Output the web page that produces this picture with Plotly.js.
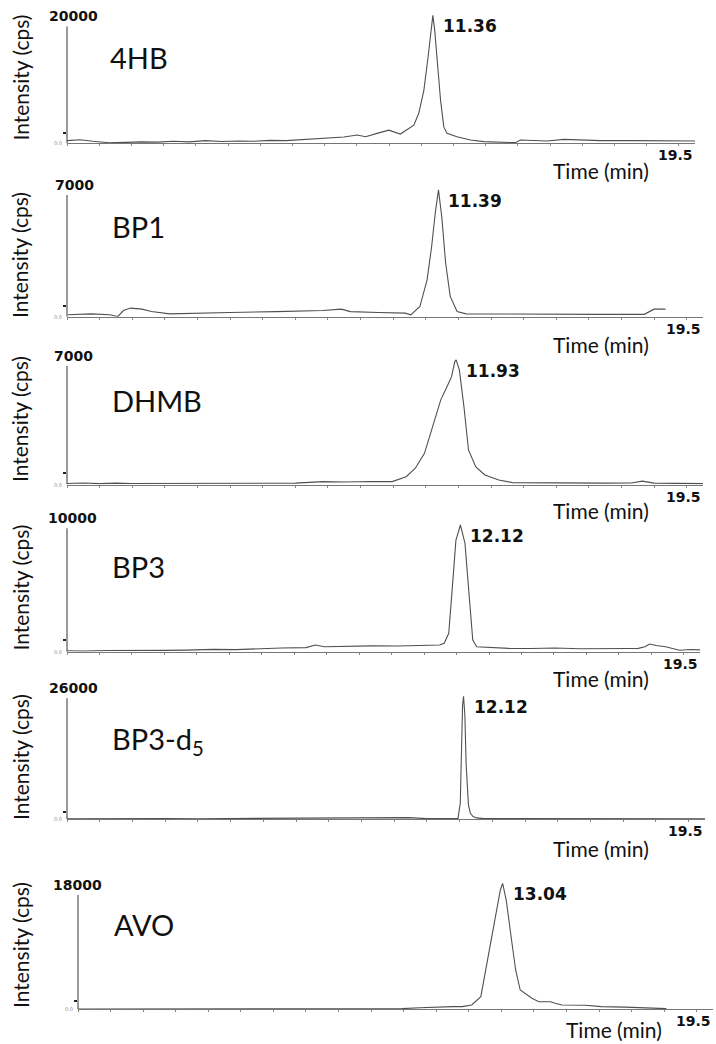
<!DOCTYPE html>
<html><head><meta charset="utf-8">
<script src="https://cdn.plot.ly/plotly-3.0.1.min.js"></script>
<style>html,body{margin:0;padding:0;background:#fff;}#chart{width:716px;height:1044px;}</style>
</head><body><div id="chart"></div>
<script>
// ---------------- data ----------------
const compounds = ['4HB', 'BP1', 'DHMB', 'BP3', 'BP3-d<sub>5</sub>', 'AVO'];
const retentionTimes = [11.36, 11.39, 11.93, 12.12, 12.12, 13.04];
const yAxisMax = [20000, 7000, 7000, 10000, 26000, 18000];
const yTickMarks = [1800, 600, 700, 950, 1600, 1300];
const xAxisEnd = 19.5;
const xTitle = 'Time (min)';
const yTitle = 'Intensity (cps)';

const time_4HB = [0, 0.4, 0.8, 1.3, 1.8, 2.3, 2.8, 3.3, 3.8, 4.3, 4.8, 5.3, 5.8, 6.3, 6.8, 7.3, 7.8, 8.29, 8.6, 9.01, 9.27, 9.63, 9.99, 10.35, 10.61, 10.77, 10.92, 11.08, 11.21, 11.31, 11.36, 11.42, 11.51, 11.6, 11.7, 11.8, 12.11, 12.53, 12.94, 13.92, 14.08, 14.91, 15.43, 16.57, 17.61, 18.64, 19.5];
const int_4HB  = [450, 600, 350, 100, 150, 250, 200, 350, 250, 450, 300, 400, 350, 500, 450, 650, 800, 1020, 1070, 1410, 1130, 1700, 2250, 1580, 2540, 3100, 5090, 9030, 14700, 19800, 21900, 19200, 13000, 7340, 2810, 1700, 1130, 560, 280, 110, 560, 390, 680, 450, 450, 450, 390];

const time_BP1 = [0.03, 0.74, 1.31, 1.56, 1.73, 1.95, 2.3, 2.59, 3.15, 3.86, 5.0, 6.42, 7.84, 8.41, 8.69, 9.55, 10.37, 10.54, 10.82, 11.04, 11.18, 11.29, 11.39, 11.49, 11.61, 11.75, 11.96, 12.24, 13.52, 14.94, 16.36, 17.7, 17.85, 18.0, 18.35];
const int_BP1  = [115, 170, 115, 20, 360, 500, 440, 300, 170, 210, 250, 300, 360, 440, 300, 250, 210, 115, 590, 2120, 4040, 5950, 7290, 5760, 3080, 1170, 300, 170, 150, 170, 140, 140, 300, 440, 440];

const time_DHMB = [0, 0.5, 1.0, 1.5, 2.0, 3.0, 4.0, 5.0, 6.0, 7.0, 7.84, 8.5, 9.3, 9.97, 10.4, 10.68, 10.96, 11.25, 11.46, 11.65, 11.79, 11.89, 11.93, 12.03, 12.17, 12.31, 12.53, 12.81, 13.24, 13.66, 14.5, 15.5, 16.5, 17.3, 17.64, 18.0, 18.5, 19.0, 19.5];
const int_DHMB  = [60, 90, 50, 80, 60, 70, 90, 60, 100, 80, 170, 150, 180, 170, 460, 960, 1840, 3620, 5000, 5780, 6370, 7260, 7360, 6770, 4600, 2040, 1050, 560, 270, 110, 90, 70, 80, 90, 200, 80, 70, 60, 50];

const time_BP3 = [0, 0.5, 1.2, 2.0, 3.0, 3.67, 4.5, 5.2, 5.94, 6.6, 7.36, 7.65, 7.93, 8.6, 9.4, 10.2, 11.0, 11.48, 11.62, 11.76, 11.88, 11.98, 12.12, 12.26, 12.4, 12.5, 12.62, 13.0, 13.61, 14.3, 15.03, 15.8, 16.6, 17.3, 17.6, 17.8, 17.95, 18.15, 18.44, 18.87, 19.2, 19.5];
const int_BP3  = [80, 60, 100, 80, 110, 130, 190, 170, 270, 300, 330, 540, 400, 440, 470, 460, 500, 540, 680, 1490, 5540, 9020, 10270, 8780, 4190, 950, 400, 330, 270, 260, 300, 240, 280, 260, 270, 400, 620, 500, 400, 120, 180, 150];

const time_BP3d5 = [0, 1, 2, 3, 4, 5, 6, 7, 8, 9, 9.8, 10.1, 10.45, 11.0, 11.6, 11.95, 12.02, 12.06, 12.09, 12.12, 12.16, 12.2, 12.27, 12.33, 12.41, 12.52, 12.75, 13.5, 14.5, 15.5, 16.5, 17.5, 18.5, 19.5];
const int_BP3d5  = [100, 150, 120, 160, 130, 150, 120, 140, 160, 180, 250, 200, 350, 150, 130, 150, 3500, 18800, 24500, 26430, 22400, 11700, 3100, 1300, 600, 300, 150, 180, 150, 170, 150, 130, 150, 120];

const time_AVO = [0, 1, 2, 3, 4, 5, 6, 7, 8, 9, 9.95, 10.5, 11.09, 11.5, 11.8, 12.09, 12.37, 12.58, 12.73, 12.87, 12.97, 13.04, 13.15, 13.3, 13.44, 13.58, 13.79, 13.94, 14.15, 14.51, 14.65, 14.86, 15.58, 15.79, 16.07, 16.8, 17.5, 18.07];
const int_AVO  = [50, 60, 40, 70, 50, 60, 50, 70, 60, 80, 100, 250, 420, 420, 420, 680, 1990, 7770, 11960, 16160, 18790, 19840, 17210, 11430, 6190, 3040, 2250, 1730, 1200, 1200, 945, 680, 630, 520, 420, 350, 260, 100];

const times = [time_4HB, time_BP1, time_DHMB, time_BP3, time_BP3d5, time_AVO];
const intensities = [int_4HB, int_BP1, int_DHMB, int_BP3, int_BP3d5, int_AVO];

// ---------------- layout (pixel geometry of each panel) ----------------
const W = 716, H = 1044;
const panels = [
  {base: 143.3, axisTop: 26.5, top: 12, x0: 67, x1: 695, labelX: 73, nameX: 108, nameY: 57.5, intY: 77.5, timeRight: 650, timeY: 170},
  {base: 316.8, axisTop: 195, top: 187, x0: 67, x1: 703, labelX: 74, nameX: 110, nameY: 226, intY: 255, timeRight: 650, timeY: 344},
  {base: 484.5, axisTop: 366, top: 357, x0: 67, x1: 703, labelX: 73, nameX: 110, nameY: 400, intY: 419, timeRight: 650, timeY: 510},
  {base: 651.7, axisTop: 528.3, top: 522, x0: 67, x1: 700, labelX: 72, nameX: 110, nameY: 566, intY: 587.5, timeRight: 650, timeY: 678},
  {base: 819.3, axisTop: 698.3, top: 693, x0: 67, x1: 705, labelX: 73, nameX: 110, nameY: 740, intY: 757, timeRight: 650, timeY: 848},
  {base: 1009.3, axisTop: 895, top: 880, x0: 78, x1: 713, labelX: 77, nameX: 112, nameY: 924, intY: 945, timeRight: 663, timeY: 1029}
];
const fx = px => px / W;
const fy = py => 1 - py / H;

const traces = [];
const layout = {
  width: W, height: H,
  margin: {l: 0, r: 0, t: 0, b: 0},
  paper_bgcolor: '#fff', plot_bgcolor: 'rgba(0,0,0,0)',
  showlegend: false,
  annotations: [], shapes: []
};

const boldFont = size => ({family: 'DejaVu Sans, Verdana, sans-serif', size: size, color: '#111', weight: 'bold'});
const textFont = size => ({family: 'Lato, Open Sans, sans-serif', size: size, color: '#111'});

panels.forEach((p, i) => {
  const n = i === 0 ? '' : String(i + 1);
  const xa = 'x' + n, ya = 'y' + n;
  const T = yAxisMax[i];
  const rangeMax = T * (p.base - p.top) / (p.base - p.axisTop);
  traces.push({
    x: times[i], y: intensities[i], xaxis: xa, yaxis: ya,
    type: 'scatter', mode: 'lines',
    line: {color: '#505050', width: 1.1}, hoverinfo: 'skip'
  });
  layout['xaxis' + n] = {
    domain: [fx(p.x0), fx(p.x1)], anchor: ya, range: [0, xAxisEnd],
    showline: true, linecolor: '#777', linewidth: 1,
    ticks: 'outside', ticklen: 2, tickwidth: 1, tickcolor: '#888',
    tickmode: 'linear', tick0: 0, dtick: 1,
    showticklabels: false, showgrid: false, zeroline: false, fixedrange: true
  };
  layout['yaxis' + n] = {
    domain: [fy(p.base), fy(p.top)], anchor: xa, range: [0, rangeMax],
    showline: false, showgrid: false, zeroline: false,
    tickmode: 'array', tickvals: [yTickMarks[i]],
    ticks: 'outside', ticklen: 3, tickwidth: 2, tickcolor: '#222',
    showticklabels: false, fixedrange: true
  };
  // y axis line from 0 to the labelled maximum
  layout.shapes.push({
    type: 'line', xref: xa + ' domain', x0: 0, x1: 0,
    yref: ya, y0: 0, y1: T, line: {color: '#555', width: 1.2}
  });
  // max intensity label
  layout.annotations.push({
    text: String(T), xref: 'paper', x: fx(p.labelX), xanchor: 'center',
    yref: ya, y: T, yanchor: 'bottom', yshift: 0, showarrow: false, font: boldFont(14)
  });
  // tiny zero label
  layout.annotations.push({
    text: '0.0', xref: xa + ' domain', x: 0, xanchor: 'right', xshift: -3,
    yref: ya, y: 0, yanchor: 'middle', showarrow: false,
    font: {family: 'DejaVu Sans', size: 5, color: '#888'}
  });
  // end-of-axis label
  layout.annotations.push({
    text: String(xAxisEnd), xref: xa + ' domain', x: 1, xanchor: 'right',
    yref: ya, y: 0, yanchor: 'top', yshift: -2, showarrow: false, font: boldFont(14)
  });
  // peak retention time label
  const peak = Math.max.apply(null, intensities[i]);
  layout.annotations.push({
    text: retentionTimes[i].toFixed(2), xref: xa, x: retentionTimes[i], xanchor: 'left', xshift: 8,
    yref: ya, y: peak, yanchor: 'top', yshift: 1, showarrow: false, font: boldFont(17)
  });
  // x title
  layout.annotations.push({
    text: xTitle, xref: 'paper', x: fx(p.timeRight), xanchor: 'right',
    yref: 'paper', y: fy(p.timeY), yanchor: 'middle', borderpad: 0, showarrow: false, font: textFont(21)
  });
  // y title
  layout.annotations.push({
    text: yTitle, xref: 'paper', x: fx(20), xanchor: 'center',
    yref: 'paper', y: fy(p.intY), yanchor: 'middle', textangle: -90, showarrow: false, font: textFont(21)
  });
  // compound name
  layout.annotations.push({
    text: compounds[i], xref: 'paper', x: fx(p.nameX), xanchor: 'left',
    yref: 'paper', y: fy(p.nameY), yanchor: 'middle', showarrow: false, font: textFont(29)
  });
});

Plotly.newPlot('chart', traces, layout, {staticPlot: true, displayModeBar: false});
</script>
</body></html>
